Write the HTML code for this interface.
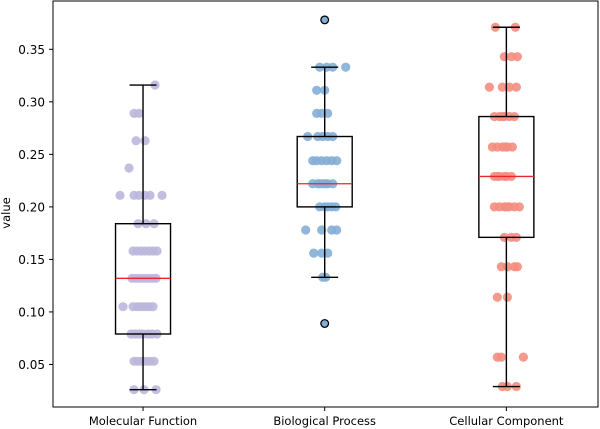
<!DOCTYPE html>
<html><head><meta charset="utf-8"><style>
html,body{margin:0;padding:0;background:#fff;width:600px;height:429px;overflow:hidden}
svg{display:block;font-family:"DejaVu Sans","Liberation Sans",sans-serif}
</style></head><body>
<svg id="chart" width="600" height="429"></svg>
<script>
const categories = ["Molecular Function", "Biological Process", "Cellular Component"];
const yTicks = [0.05, 0.10, 0.15, 0.20, 0.25, 0.30, 0.35];
const mfValues = [0.316,0.289,0.289,0.263,0.263,0.237,0.211,0.211,0.211,0.211,0.211,0.211,0.184,0.184,0.184,
 0.158,0.158,0.158,0.158,0.158,0.158,0.158,0.132,0.132,0.132,0.132,0.132,0.132,0.132,
 0.105,0.105,0.105,0.105,0.105,0.105,0.105,0.079,0.079,0.079,0.079,0.079,0.079,0.079,
 0.053,0.053,0.053,0.053,0.053,0.053,0.026,0.026,0.026];
const mfJitter = [12,-9,-4,-7,2,-14,-23,-9,-4,2,7,19,-5,3,11,
 -10,-6,-2,2,6,10,14,-11,-7,-3,1,5,9,13,
 -20,-10,-6,-2,2,6,10,-12,-8,-4,0,5,9,14,
 -9,-5,-1,3,7,11,-9,1,13];
const bpValues = [0.378,0.333,0.333,0.333,0.333,0.311,0.311,0.289,0.289,0.289,
 0.267,0.267,0.267,0.267,0.267,0.244,0.244,0.244,0.244,0.244,0.244,
 0.222,0.222,0.222,0.222,0.222,0.222,0.222,0.200,0.200,0.200,0.200,0.200,
 0.178,0.178,0.178,0.178,0.156,0.156,0.156,0.133,0.133,0.089];
const bpJitter = [0,-5,2,8,21,-8,0,-8,-3,3,
 -17,-7,-2,3,8,-12,-3,2,7,12,-8,
 -12,-7,-2,3,8,-5,1,-5,0,7,11,3,
 -19,-3,7,12,-11,-3,3,-2,1,0];
const ccValues = [0.371,0.371,0.343,0.343,0.343,0.314,0.314,0.314,0.314,
 0.286,0.286,0.286,0.286,0.286,0.286,0.257,0.257,0.257,0.257,0.257,0.257,
 0.229,0.229,0.229,0.229,0.229,0.229,0.200,0.200,0.200,0.200,0.200,0.200,0.200,
 0.171,0.171,0.171,0.143,0.143,0.143,0.143,0.114,0.114,0.057,0.057,0.057,0.029,0.029,0.029];
const ccJitter = [-11,9,-2,5,11,-17,-4,3,10,
 -12,-7,-2,3,8,-4,-14,-9,-4,1,6,-1,
 -12,-7,-2,5,-9,0,-12,-7,-2,3,8,13,0,
 -2,5,10,-5,1,8,11,-9,1,-9,-5,17,-4,1,10];
const seriesValues = [mfValues, bpValues, ccValues];
const seriesJitter = [mfJitter, bpJitter, ccJitter];
const colors = ["#bbb7dc", "#84aed6", "#f58d80"];

const NS = "http://www.w3.org/2000/svg";
const svg = document.getElementById("chart");
const L = 53, R = 598, T = 1, B = 407;
const yMin = 0.0095, yMax = 0.396;
const y = v => B - (v - yMin) / (yMax - yMin) * (B - T);
const x = i => L + (i + 0.5) * (R - L) / 3 - 0.8;
function el(tag, attrs, parent) {
  const e = document.createElementNS(NS, tag);
  for (const k in attrs) e.setAttribute(k, attrs[k]);
  (parent || svg).appendChild(e);
  return e;
}
function quant(s, p) { const h = (s.length - 1) * p, lo = Math.floor(h); return s[lo] + (s[Math.min(lo + 1, s.length - 1)] - s[lo]) * (h - lo); }

yTicks.forEach(t => {
  const g = el("line", {x1: L - 4, x2: L, y1: y(t), y2: y(t), stroke: "#000", "stroke-width": 1});
  
  
  const tx = el("text", {x: L - 8, y: y(t) + 4.5, "text-anchor": "end", "font-size": 12, fill: "#000"});
  tx.textContent = t.toFixed(2);
  
  
});
const yl = el("text", {x: 10, y: 213, "text-anchor": "middle", "font-size": 11.5, transform: "rotate(-90 10 213)"});
yl.textContent = "value";



categories.forEach((c, i) => {
  const cx = x(i);
  const tk = el("line", {x1: cx, x2: cx, y1: B, y2: B + 4, stroke: "#000"});
  
  
  const tx = el("text", {x: cx, y: 425, "text-anchor": "middle", "font-size": 11.5});
  tx.textContent = c;
  
  

  const vals = seriesValues[i], jit = seriesJitter[i];
  const g = el("g", {});
  
  
  vals.forEach((v, k) => {
    const p = el("circle", {cx: cx + (jit[k] || 0), cy: y(v), r: 4.6, fill: colors[i], "fill-opacity": 0.9}, g);
    
    
  });

  const s = vals.slice().sort((a, b) => a - b);
  const q1 = quant(s, 0.25), med = quant(s, 0.5), q3 = quant(s, 0.75), iqr = q3 - q1;
  const lo = s.find(v => v >= q1 - 1.5 * iqr), hi = s.slice().reverse().find(v => v <= q3 + 1.5 * iqr);
  const bw = 55, cw = 27;
  const bg = el("g", {fill: "none", stroke: "#000", "stroke-width": 1.4});
  
  
  el("rect", {x: cx - bw / 2, y: y(q3), width: bw, height: y(q1) - y(q3)}, bg);
  el("line", {x1: cx, x2: cx, y1: y(q3), y2: y(hi)}, bg);
  el("line", {x1: cx, x2: cx, y1: y(q1), y2: y(lo)}, bg);
  el("line", {x1: cx - cw / 2, x2: cx + cw / 2, y1: y(hi), y2: y(hi)}, bg);
  el("line", {x1: cx - cw / 2, x2: cx + cw / 2, y1: y(lo), y2: y(lo)}, bg);
  const m = el("line", {x1: cx - bw / 2, x2: cx + bw / 2, y1: y(med), y2: y(med), stroke: "#e8282a", "stroke-width": 1.3});
  
  
  s.filter(v => v < lo || v > hi).forEach(v => {
    const o = el("circle", {cx: cx, cy: y(v), r: 3.8, fill: colors[i], stroke: "#000", "stroke-width": 1.2});
    
    
  });
});
const frame = el("rect", {x: L, y: T, width: R - L, height: B - T, fill: "none", stroke: "#000", "stroke-width": 1});


</script>
</body></html>
